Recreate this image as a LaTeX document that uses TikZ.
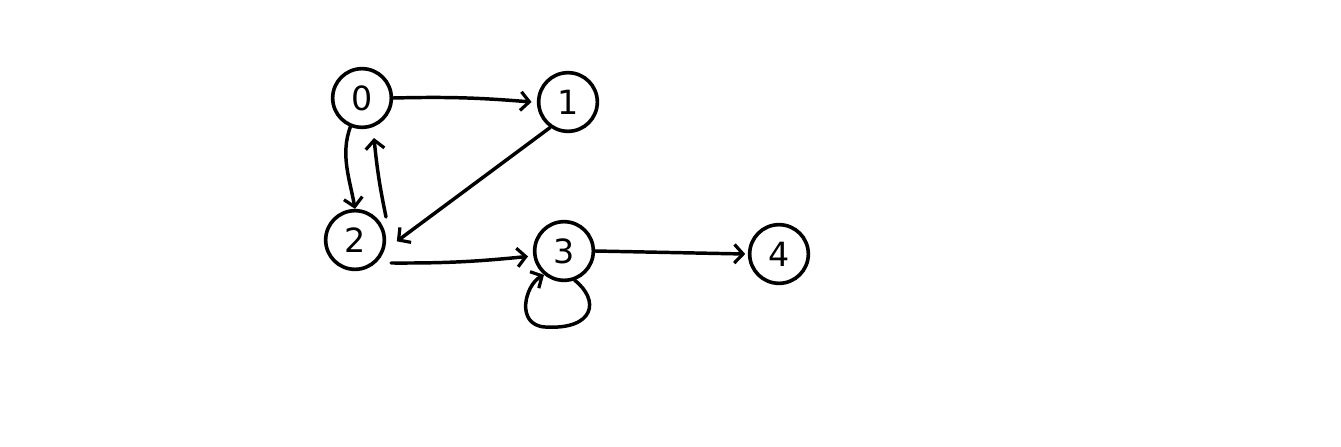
\documentclass[tikz,border=0pt]{standalone}
\usepackage{fontspec}
\setmainfont{DejaVu Sans}
\usetikzlibrary{arrows.meta}
\begin{document}
\begin{tikzpicture}[x=0.75pt,y=-0.75pt,
  vtx/.style={circle,draw,line width=2.7pt,minimum size=44pt,inner sep=0pt,font=\fontsize{25}{27}\selectfont},
  edge/.style={line width=2.6pt,line cap=round,-{Straight Barb[length=6.5pt,width=14pt,line width=2.4pt]}}]
\useasboundingbox (0,0) rectangle (1341,446);
\node[vtx] (n0) at (362,98) {0};
\node[vtx] (n1) at (568,102) {1};
\node[vtx] (n2) at (355,240) {2};
\node[vtx] (n3) at (564,251) {3};
\node[vtx] (n4) at (779,254) {4};
\coordinate (s20) at (386,217);
\coordinate (e20) at (374,138);
\coordinate (s23) at (391,263);
\draw[edge] (n0.east) to[bend left=3] ([xshift=-4pt]n1.west);
\draw[edge] (n0.-112) .. controls (340,155) and (350,180) .. (n2.north);
\draw[edge] (s20) to[bend left=3] (e20);
\draw[edge] (n1.-125) -- ([shift={(8pt,-1pt)}]n2.east);
\draw[edge] (s23) to[bend right=3] ([xshift=-4pt]n3.-170);
\draw[edge] (n3.east) -- ([xshift=-2pt]n4.west);
\draw[edge] (n3.-70) .. controls (600,300) and (595,330) .. (545,327)
  .. controls (515,325) and (525,285) .. (n3.-130);
\end{tikzpicture}
\end{document}
